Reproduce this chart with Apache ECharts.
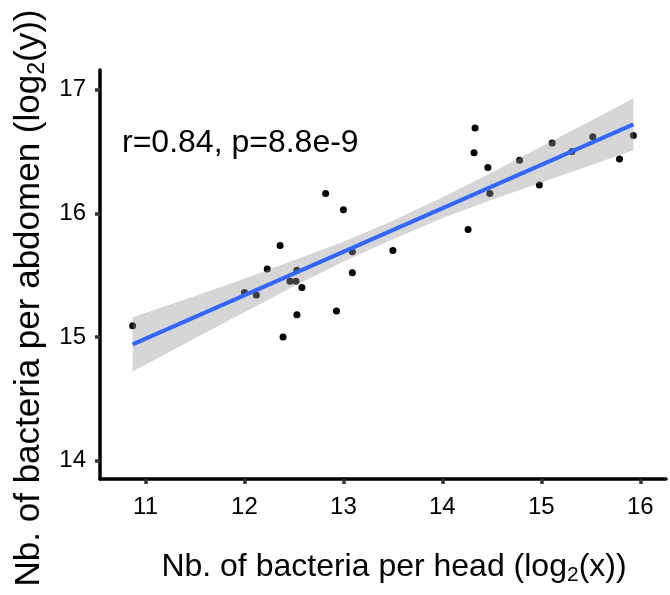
<!DOCTYPE html>
<html>
<head>
<meta charset="utf-8">
<script src="https://cdn.jsdelivr.net/npm/echarts@6/dist/echarts.min.js"></script>
<style>
html,body{margin:0;padding:0;background:#fff;}
#chart{width:670px;height:595px;}
</style>
</head>
<body>
<div id="chart"></div>
<script>
// ---- data ----
const headX = [10.87, 12.00, 12.12, 12.23, 12.36, 12.39, 12.46, 12.52, 12.53, 12.53, 12.58, 12.82, 12.93, 13.00, 13.09, 13.09, 13.50, 14.26, 14.33, 14.32, 14.46, 14.48, 14.78, 14.98, 15.11, 15.31, 15.52, 15.79, 15.93];
const abdomenY = [15.09, 15.36, 15.34, 15.55, 15.74, 15.00, 15.45, 15.45, 15.54, 15.18, 15.40, 16.16, 15.21, 16.03, 15.69, 15.52, 15.70, 15.87, 16.69, 16.49, 16.37, 16.16, 16.43, 16.23, 16.57, 16.50, 16.62, 16.44, 16.63];
const fitX = [10.87, 15.93];
const fitY = [14.94, 16.72];
const bandX = [10.87, 11.5, 12.0, 12.5, 13.0, 13.5, 14.0, 14.5, 15.0, 15.5, 15.93];
const bandLower = [14.72, 14.99, 15.20, 15.41, 15.61, 15.79, 15.96, 16.11, 16.25, 16.39, 16.51];
const bandUpper = [15.16, 15.33, 15.47, 15.62, 15.77, 15.94, 16.13, 16.33, 16.54, 16.75, 16.93];
const xTicks = [11, 12, 13, 14, 15, 16];
const yTicks = [14, 15, 16, 17];
const annotation = 'r=0.84, p=8.8e-9';

const FONT = "'Liberation Sans', Arial, Helvetica, sans-serif";
const scatterData = headX.map((x, i) => [x, abdomenY[i]]);
const fitData = fitX.map((x, i) => [x, fitY[i]]);

const chart = echarts.init(document.getElementById('chart'), null, {renderer: 'canvas'});
const axisCommon = {
  type: 'value',
  splitLine: {show: false},
  axisLine: {show: true, onZero: false, lineStyle: {color: '#000', width: 3.5}},
  axisTick: {show: true, length: 5, lineStyle: {color: '#333', width: 3.5}},
  axisLabel: {color: '#000', fontSize: 24, fontFamily: FONT}
};
chart.setOption({
  animation: false,
  backgroundColor: '#fff',
  grid: {left: 100, right: 4, top: 70, bottom: 116, containLabel: false},
  xAxis: Object.assign({}, axisCommon, {
    min: 10.54, max: 16.26,
    axisTick: Object.assign({}, axisCommon.axisTick, {customValues: xTicks}),
    axisLabel: Object.assign({}, axisCommon.axisLabel, {customValues: xTicks, margin: 16})
  }),
  yAxis: Object.assign({}, axisCommon, {
    min: 13.85, max: 17.16,
    axisTick: Object.assign({}, axisCommon.axisTick, {customValues: yTicks}),
    axisLabel: Object.assign({}, axisCommon.axisLabel, {customValues: yTicks, margin: 14})
  }),
  graphic: [
    {type: 'text', left: 122, top: 127, style: {text: annotation, fill: '#000', font: '32px ' + FONT}},
    {type: 'text', x: 394, y: 567, style: {
      text: '{a|Nb. of bacteria per head (log}{s|2}{a|(x))}',
      align: 'center', verticalAlign: 'middle',
      rich: {a: {fontSize: 32, fontFamily: FONT, fill: '#000', lineHeight: 38},
             s: {fontSize: 21, fontFamily: FONT, fill: '#000', lineHeight: 20, verticalAlign: 'bottom'}}
    }},
    {type: 'text', x: 29, y: 298, rotation: Math.PI / 2, style: {
      text: '{a|Nb. of bacteria per abdomen (log}{s|2}{a|(y))}',
      align: 'center', verticalAlign: 'middle',
      rich: {a: {fontSize: 35, fontFamily: FONT, fill: '#000', lineHeight: 40},
             s: {fontSize: 23, fontFamily: FONT, fill: '#000', lineHeight: 21, verticalAlign: 'bottom'}}
    }}
  ],
  series: [
    {type: 'scatter', data: scatterData, symbolSize: 7, itemStyle: {color: '#000', opacity: 1}, z: 2},
    {type: 'custom', z: 3, data: [[bandX[0], bandLower[0]]],
      renderItem: function (params, api) {
        const pts = [];
        for (let i = 0; i < bandX.length; i++) pts.push(api.coord([bandX[i], bandUpper[i]]));
        for (let i = bandX.length - 1; i >= 0; i--) pts.push(api.coord([bandX[i], bandLower[i]]));
        return {type: 'polygon', shape: {points: pts}, style: {fill: 'rgba(153,153,153,0.4)'}};
      }},
    {type: 'line', data: fitData, showSymbol: false, z: 4, lineStyle: {color: '#3366FF', width: 4}}
  ]
});
</script>
</body>
</html>
